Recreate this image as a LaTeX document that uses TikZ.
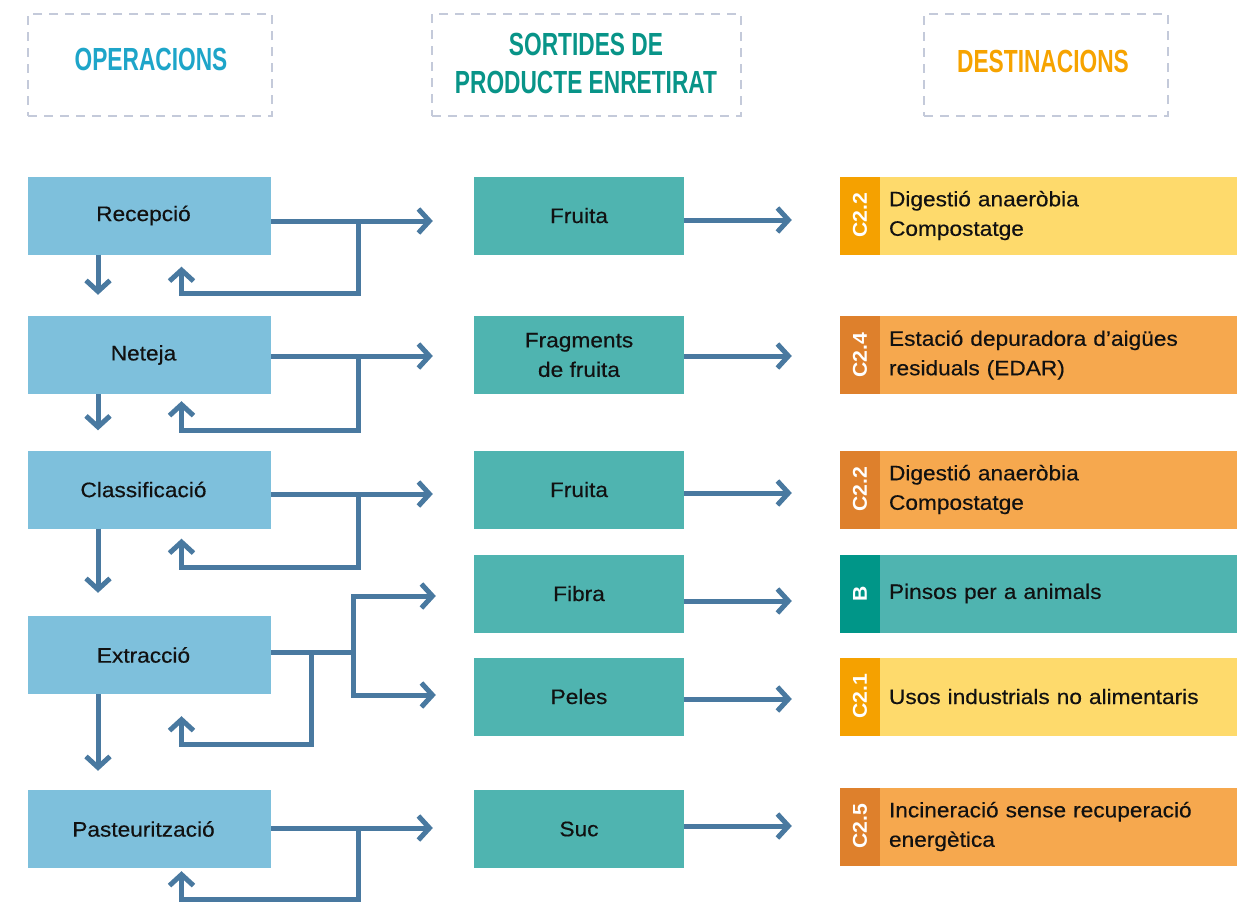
\documentclass[tikz,border=0pt]{standalone}
\usepackage{fontspec}
\setmainfont{Liberation Sans}
\newfontfamily\bodyfont[FakeStretch=1.08,FakeBold=0.35]{Liberation Sans}
\newfontfamily\headfont[FakeStretch=0.71]{Liberation Sans}
\newfontfamily\labfont[FakeStretch=1.06]{Liberation Sans}
\usetikzlibrary{arrows.meta,calc}
\definecolor{opc}{RGB}{126,192,220}
\definecolor{midc}{RGB}{79,180,176}
\definecolor{yelc}{RGB}{254,218,108}
\definecolor{yels}{RGB}{245,161,0}
\definecolor{orac}{RGB}{246,168,78}
\definecolor{oras}{RGB}{222,128,44}
\definecolor{teac}{RGB}{79,180,176}
\definecolor{teas}{RGB}{0,150,136}
\definecolor{linec}{RGB}{73,121,160}
\definecolor{dashc}{RGB}{196,202,218}
\definecolor{hac}{RGB}{30,165,201}
\definecolor{hbc}{RGB}{8,148,136}
\definecolor{hcc}{RGB}{246,163,0}
\definecolor{txtc}{RGB}{17,17,17}
\begin{document}
\begin{tikzpicture}[x=1pt,y=-1pt,
  dbox/.style={draw=dashc, line width=1.5pt, dash pattern=on 9pt off 7pt, inner sep=0pt, minimum height=102pt},
  htext/.style={font=\headfont\bfseries\fontsize{32}{38}\selectfont, align=center, inner sep=0pt},
  opbox/.style={fill=opc, minimum width=243pt, minimum height=78pt, inner sep=0pt, text=txtc, font=\bodyfont\fontsize{21}{29.5}\selectfont, align=center},
  midbox/.style={fill=midc, minimum width=210pt, minimum height=78pt, inner sep=0pt, text=txtc, font=\bodyfont\fontsize{21}{29.5}\selectfont, align=center},
  strip/.style={minimum width=78pt, minimum height=40pt, inner sep=0pt, rotate=90, text=white, font=\labfont\bfseries\fontsize{20}{24}\selectfont},
  dest/.style={text width=339pt, inner xsep=9pt, inner ysep=0pt, minimum height=78pt, align=left, text=txtc, font=\bodyfont\fontsize{21}{29.5}\selectfont},
  conn/.style={draw=linec, line width=5pt, -{Straight Barb[length=11pt,width=24pt]}}
]
\useasboundingbox (0,0) rectangle (1253,902);

% headers
\node[dbox, minimum width=244pt] (hb1) at (150,65) {};
\node[htext, text=hac] (ht1) at (151,59.5) {OPERACIONS};
\node[dbox, minimum width=309pt] (hb2) at (586.5,65) {};
\node[htext, text=hbc] (ht2) at (586,63) {SORTIDES DE\\PRODUCTE ENRETIRAT};
\node[dbox, minimum width=244pt] (hb3) at (1046,65) {};
\node[htext, text=hcc] (ht3) at (1043,61.5) {DESTINACIONS};

% operations
\node[opbox] (rec) at (149.5,215.5) {Recepció\hspace{12pt}};
\node[opbox] (net) at (149.5,355) {Neteja\hspace{12pt}};
\node[opbox] (cla) at (149.5,489.5) {Classificació\hspace{12pt}};
\node[opbox] (ext) at (149.5,655) {Extracció\hspace{12pt}};
\node[opbox] (pas) at (149.5,829) {Pasteurització\hspace{12pt}};

% outputs
\node[midbox] (m1) at (579,215.5) {Fruita};
\node[midbox] (m2) at (579,355) {Fragments\\de fruita};
\node[midbox] (m3) at (579,489.5) {Fruita};
\node[midbox] (m4) at (579,593.5) {Fibra};
\node[midbox] (m5) at (579,696.5) {Peles};
\node[midbox] (m6) at (579,829) {Suc};

% destinations
\node[strip, fill=yels] (s1) at (860,215.5) {C2.2};
\node[dest, fill=yelc] (d1) at (1058.5,215.5) {Digestió anaeròbia\\Compostatge};
\node[strip, fill=oras] (s2) at (860,355) {C2.4};
\node[dest, fill=orac] (d2) at (1058.5,355) {Estació depuradora d’aigües\\residuals (EDAR)};
\node[strip, fill=oras] (s3) at (860,489.5) {C2.2};
\node[dest, fill=orac] (d3) at (1058.5,489.5) {Digestió anaeròbia\\Compostatge};
\node[strip, fill=teas] (s4) at (860,593.5) {B};
\node[dest, fill=teac] (d4) at (1058.5,593.5) {Pinsos per a animals};
\node[strip, fill=yels] (s5) at (860,696.5) {C2.1};
\node[dest, fill=yelc] (d5) at (1058.5,696.5) {Usos industrials no alimentaris};
\node[strip, fill=oras] (s6) at (860,826.5) {C2.5};
\node[dest, fill=orac] (d6) at (1058.5,826.5) {Incineració sense recuperació\\energètica};

% operation -> output arrows with feedback loops
\coordinate (r1) at ([yshift=-5.5pt]rec.east);
\draw[conn, shorten >=41pt] (r1) -- (r1 -| m1.west);
\draw[conn] ([xshift=87pt]r1) -- ++(0,72) -| ([xshift=32pt,yshift=-12pt]rec.south);

\coordinate (r2) at ([yshift=-1pt]net.east);
\draw[conn, shorten >=41pt] (r2) -- (r2 -| m2.west);
\draw[conn] ([xshift=87pt]r2) -- ++(0,74) -| ([xshift=32pt,yshift=-7pt]net.south);

\coordinate (r3) at ([yshift=-4.5pt]cla.east);
\draw[conn, shorten >=41pt] (r3) -- (r3 -| m3.west);
\draw[conn] ([xshift=87pt]r3) -- ++(0,73) -| ([xshift=32pt,yshift=-10pt]cla.south);

\coordinate (r4) at ([yshift=3pt]ext.east);
\draw[conn, shorten >=38pt] (r4) -- ([xshift=82pt]r4) |- ([yshift=-2.5pt]m4.west);
\draw[conn, shorten >=38pt] ([xshift=82pt]r4) |- ([yshift=1.5pt]m5.west);
\draw[conn] ([xshift=40pt]r4) -- ++(0,92) -| ([xshift=32pt,yshift=-22pt]ext.south);

\coordinate (r6) at ([yshift=1pt]pas.east);
\draw[conn, shorten >=41pt] (r6) -- (r6 -| m6.west);
\draw[conn] ([xshift=87pt]r6) -- ++(0,71) -| ([xshift=32pt,yshift=-3pt]pas.south);

% downward arrows
\draw[conn, shorten >=21pt] ([xshift=-51.5pt]rec.south) -- ([xshift=-51.5pt]net.north);
\draw[conn, shorten >=20pt] ([xshift=-51.5pt]net.south) -- ([xshift=-51.5pt]cla.north);
\draw[conn, shorten >=23pt] ([xshift=-51.5pt]cla.south) -- ([xshift=-51.5pt]ext.north);
\draw[conn, shorten >=19pt] ([xshift=-51.5pt]ext.south) -- ([xshift=-51.5pt]pas.north);

% output -> destination arrows
\coordinate (q1) at ([yshift=-4.5pt]m1.east);
\draw[conn, shorten >=88pt] (q1) -- (q1 -| d1.west);
\coordinate (q2) at ([yshift=-1pt]m2.east);
\draw[conn, shorten >=88pt] (q2) -- (q2 -| d2.west);
\coordinate (q3) at ([yshift=-3.5pt]m3.east);
\draw[conn, shorten >=88pt] (q3) -- (q3 -| d3.west);
\coordinate (q4) at ([yshift=-7.5pt]m4.east);
\draw[conn, shorten >=88pt] (q4) -- (q4 -| d4.west);
\coordinate (q5) at ([yshift=-2.5pt]m5.east);
\draw[conn, shorten >=88pt] (q5) -- (q5 -| d5.west);
\coordinate (q6) at ([yshift=3pt]m6.east);
\draw[conn, shorten >=88pt] (q6) -- (q6 -| d6.west);
\end{tikzpicture}
\end{document}
